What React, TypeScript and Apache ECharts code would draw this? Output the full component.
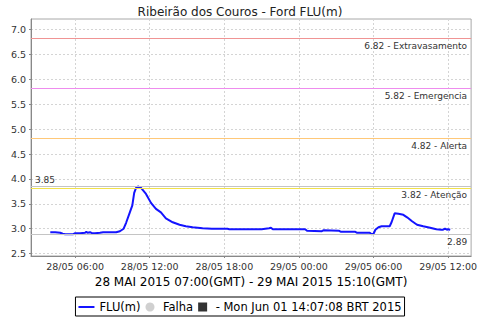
import React, { useEffect, useRef } from "react";
import * as echarts from "echarts";

// Local time (BRT) in hours since 28/05/2015 00:00
const hours = [4.0, 4.4, 4.8, 5.0, 5.2, 5.5, 5.85, 6.0, 6.4, 6.8, 6.9, 7.0, 7.2, 7.35, 7.6, 8.0, 8.25, 8.8, 9.3, 9.6, 9.9, 10.1, 10.4, 10.6, 10.75, 10.9, 11.05, 11.3, 11.7, 12.1, 12.5, 12.9, 13.3, 13.85, 14.4, 14.9, 15.45, 16.25, 17.0, 18.25, 18.4, 19.2, 21.0, 21.6, 21.75, 21.9, 24.5, 24.65, 25.85, 26.0, 27.2, 27.35, 28.5, 28.65, 29.7, 29.85, 30.0, 30.15, 30.4, 30.65, 31.3, 31.45, 31.7, 32.0, 32.4, 32.7, 33.1, 33.5, 34.0, 34.55, 35.05, 35.45, 35.6, 35.75, 35.9, 36.0, 36.17];
const levels = [2.93, 2.93, 2.92, 2.90, 2.89, 2.89, 2.89, 2.91, 2.91, 2.92, 2.94, 2.92, 2.93, 2.91, 2.91, 2.92, 2.93, 2.93, 2.93, 2.95, 3.00, 3.12, 3.33, 3.47, 3.72, 3.82, 3.85, 3.82, 3.70, 3.52, 3.40, 3.33, 3.21, 3.13, 3.08, 3.05, 3.03, 3.01, 3.00, 3.00, 2.99, 2.99, 2.99, 3.01, 3.02, 2.99, 2.99, 2.96, 2.95, 2.97, 2.96, 2.94, 2.94, 2.92, 2.92, 2.89, 2.90, 2.98, 3.03, 3.05, 3.05, 3.13, 3.31, 3.30, 3.28, 3.23, 3.15, 3.08, 3.05, 3.02, 2.99, 2.98, 2.98, 3.00, 2.98, 2.99, 2.98];

const xTicks = [6, 12, 18, 24, 30, 36];
const xTickLabels = ["28/05 06:00", "28/05 12:00", "28/05 18:00", "29/05 00:00", "29/05 06:00", "29/05 12:00"];
const yTicks = [2.5, 3.0, 3.5, 4.0, 4.5, 5.0, 5.5, 6.0, 6.5, 7.0];

const thresholds = [
  { value: 6.82, text: "6.82 - Extravasamento", color: "#f09494" },
  { value: 5.82, text: "5.82 - Emergencia", color: "#ee8cee" },
  { value: 4.82, text: "4.82 - Alerta", color: "#ffc878" },
  { value: 3.82, text: "3.82 - Atenção", color: "#f2e24a" },
  { value: 2.89, text: "2.89", color: "#c4c4c4" },
];
const maxMark = { value: 3.85, text: "3.85", color: "#c4c4c4" };

const title = "Ribeirão dos Couros - Ford FLU(m)";
const axisName = "28 MAI 2015 07:00(GMT) - 29 MAI 2015 15:10(GMT)";
const seriesName = "FLU(m)";
const failName = "Falha";
const stampName = "- Mon Jun 01 14:07:08 BRT 2015";

const FONT = "DejaVu Sans";

export default function App() {
  const ref = useRef<HTMLDivElement>(null);
  useEffect(() => {
    if (!ref.current) return;
    const chart = echarts.init(ref.current, null, { renderer: "svg" });
    const data = hours.map((h, i) => [h, levels[i]]);
    const markData: any[] = thresholds.map((t) => ({
      yAxis: t.value,
      lineStyle: { color: t.color, width: 1, type: "solid" },
      label: {
        show: true,
        formatter: t.text,
        position: "insideEndBottom",
        distance: [4, 3],
        color: "#333",
        fontSize: 9,
        fontFamily: FONT,
      },
    }));
    markData.push({
      yAxis: maxMark.value,
      lineStyle: { color: maxMark.color, width: 1, type: "solid" },
      label: {
        show: true,
        formatter: maxMark.text,
        position: "insideStartTop",
        distance: [4, 2],
        color: "#333",
        fontSize: 9,
        fontFamily: FONT,
      },
    });
    chart.setOption({
      animation: false,
      backgroundColor: "#fff",
      textStyle: { fontFamily: FONT },
      title: {
        text: title,
        left: "center",
        top: 1,
        textStyle: { fontSize: 12, fontWeight: "normal", color: "#222", fontFamily: FONT },
      },
      grid: {
        left: 31,
        right: 7,
        top: 19,
        bottom: 64,
        show: true,
        borderColor: "#a8a8a8",
        borderWidth: 1,
      },
      legend: {
        left: "center",
        top: 297,
        padding: [4, 3, 3, 3],
        borderColor: "#000",
        borderWidth: 1,
        itemWidth: 16,
        itemHeight: 9,
        itemGap: 5,
        symbolKeepAspect: true,
        selectedMode: false,
        textStyle: { fontSize: 11.5, color: "#000", fontFamily: FONT },
        data: [
          { name: seriesName, icon: "path://M0 0H16V2H0Z", itemStyle: { color: "#1414ff" } },
          { name: failName, icon: "circle", itemStyle: { color: "#c4c4c4" } },
          { name: stampName, icon: "path://M0 0H10V10H0Z", itemStyle: { color: "#000" } },
        ],
      },
      visualMap: {
        show: false,
        type: "piecewise",
        seriesIndex: 0,
        dimension: 0,
        pieces: [{ gt: 10.7, lte: 11.0, color: "#f5d400" }],
        outOfRange: { color: "#1414ff" },
      },
      xAxis: {
        type: "value",
        min: 2.45,
        max: 37.85,
        name: axisName,
        nameLocation: "middle",
        nameGap: 19,
        nameTextStyle: { fontSize: 12, color: "#000", fontFamily: FONT },
        axisLine: { show: true, lineStyle: { color: "#888" } },
        axisTick: { show: true, length: 2, customValues: xTicks, lineStyle: { color: "#888" } },
        axisLabel: {
          customValues: xTicks,
          margin: 5,
          fontSize: 9.5,
          color: "#333",
          fontFamily: FONT,
          formatter: (v: number) => {
            const i = xTicks.indexOf(Math.round(v));
            return i >= 0 ? xTickLabels[i] : "";
          },
        },
        splitLine: { show: true, lineStyle: { color: "#d4d4d4", type: [2, 2] } },
      },
      yAxis: {
        type: "value",
        min: 2.452,
        max: 7.216,
        axisLine: { show: true, lineStyle: { color: "#888" } },
        axisTick: { show: true, length: 2, customValues: yTicks, lineStyle: { color: "#888" } },
        axisLabel: {
          customValues: yTicks,
          margin: 5,
          fontSize: 9.5,
          color: "#333",
          fontFamily: FONT,
          formatter: (v: number) => v.toFixed(1),
        },
        splitLine: { show: true, lineStyle: { color: "#d4d4d4", type: [2, 2] } },
      },
      series: [
        {
          name: seriesName,
          type: "line",
          data,
          symbol: "none",
          color: "#1414ff",
          lineStyle: { width: 2, color: "#1414ff" },
          markLine: {
            silent: true,
            symbol: "none",
            precision: 2,
            data: markData,
          },
          z: 3,
        },
        {
          name: failName,
          type: "scatter",
          data: [],
          symbol: "circle",
          itemStyle: { color: "#c4c4c4" },
        },
        {
          name: stampName,
          type: "scatter",
          data: [],
          symbol: "rect",
          itemStyle: { color: "#000" },
        },
      ],
    });
    return () => chart.dispose();
  }, []);
  return (
    <div
      ref={ref}
      style={{ position: "fixed", left: 0, top: 0, width: 480, height: 320 }}
    />
  );
}
